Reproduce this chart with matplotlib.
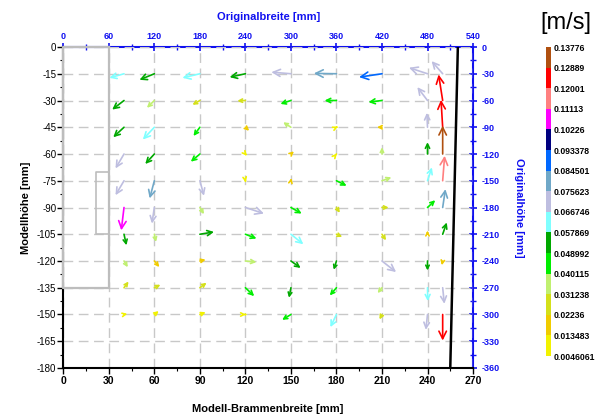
import matplotlib
matplotlib.use('Agg')
import matplotlib.pyplot as plt
import numpy as np
from matplotlib.colors import ListedColormap, BoundaryNorm
from matplotlib.cm import ScalarMappable
from matplotlib.ticker import MultipleLocator

plt.rcParams['font.family'] = ['Liberation Sans', 'DejaVu Sans']
plt.rcParams['axes.unicode_minus'] = False

# velocity field (model coords, mm); arrow vectors in mm on the plot
cols = [40, 60, 90, 120, 150, 180, 210, 240, 250]
rows = [-15, -30, -45, -60, -75, -90, -105, -120, -135, -150]

U = [[-9.6, -9.8, -11.5, -10.4, -12.9, -14.9, -15.1, -12.2, -7.3],
     [-7.8, -4.9, -4.9, -5.3, -6.9, -7.8, -8.9, -6.7, -2.7],
     [-7.1, -7.6, -4.2, 2.5, -5.1, 1.0, -3.3, -0.4, -1.1],
     [-5.6, -6.0, -6.0, 1.0, 2.0, 0.3, 0.0, 0.0, 0.0],
     [-5.6, -3.1, 2.7, 0.2, 0.4, 6.7, 6.2, 2.9, 1.3],
     [-1.8, -1.6, 2.7, 12.2, 7.1, 2.2, 4.4, 5.1, 1.8],
     [1.6, 1.1, 9.3, 7.3, 8.2, 3.8, 2.7, 0.0, 2.7],
     [2.5, 3.3, 3.8, 7.3, 6.4, -1.8, 9.3, 0.0, -0.6],
     [3.0, 4.0, 4.4, 5.8, -1.3, -4.4, -2.9, 0.2, 1.1],
     [2.2, 2.9, 3.8, 0.3, -5.8, -4.0, -1.6, -1.1, 0.0]]

V = [[-2.3, -3.4, -2.3, -1.9, 0.9, 0.2, -1.9, 3.4, 7.1],
     [-5.1, -4.1, -2.4, -0.2, -1.9, 0.0, -0.9, 7.5, 14.6],
     [-5.6, -6.9, -4.9, -2.0, 2.8, 0.4, 0.0, 8.1, 15.4],
     [-8.1, -5.6, -4.3, -1.0, 1.5, 0.3, 3.75, 6.6, 15.9],
     [-8.1, -9.9, -8.4, -0.8, 1.5, -2.8, 1.9, 7.5, 14.0],
     [-12.8, -9.0, -3.75, -3.4, -3.4, -3.0, 0.0, 4.1, 10.3],
     [-6.2, -4.3, 1.3, -2.4, -5.6, -1.5, -3.4, 2.0, 6.6],
     [-3.5, -3.4, 0.75, -0.6, -3.9, -4.9, -6.2, -5.3, -2.4],
     [3.5, 1.7, 2.8, -4.7, -5.6, -4.3, -3.0, -7.5, -9.0],
     [0.4, 1.9, 1.3, 0.0, -3.0, -7.1, -2.8, -8.6, -14.6]]

# speed [m/s]
S = [[0.062, 0.053, 0.062, 0.053, 0.071, 0.080, 0.089, 0.071, 0.071],
     [0.053, 0.035, 0.027, 0.027, 0.044, 0.044, 0.044, 0.071, 0.125],
     [0.053, 0.062, 0.044, 0.018, 0.035, 0.009, 0.018, 0.071, 0.125],
     [0.071, 0.053, 0.044, 0.009, 0.018, 0.009, 0.035, 0.053, 0.133],
     [0.071, 0.080, 0.071, 0.009, 0.018, 0.044, 0.035, 0.062, 0.116],
     [0.107, 0.071, 0.035, 0.071, 0.044, 0.027, 0.027, 0.044, 0.080],
     [0.053, 0.035, 0.053, 0.044, 0.062, 0.027, 0.027, 0.018, 0.053],
     [0.035, 0.018, 0.018, 0.035, 0.053, 0.053, 0.071, 0.053, 0.018],
     [0.027, 0.027, 0.027, 0.044, 0.053, 0.044, 0.035, 0.062, 0.071],
     [0.009, 0.009, 0.009, 0.009, 0.044, 0.062, 0.027, 0.071, 0.125]]

bounds = [0.0046061, 0.013483, 0.02236, 0.031238, 0.040115, 0.048992, 0.057869,
          0.066746, 0.075623, 0.084501, 0.093378, 0.10226, 0.11113, 0.12001,
          0.12889, 0.13776]
bound_labels = ['0.0046061', '0.013483', '0.02236', '0.031238', '0.040115',
                '0.048992', '0.057869', '0.066746', '0.075623', '0.084501',
                '0.093378', '0.10226', '0.11113', '0.12001', '0.12889', '0.13776']
level_colors = ['#f2f200', '#f0cc00', '#d4e01a', '#c0f070', '#00ee00', '#00a800',
                '#80ffff', '#bebee0', '#70a8c8', '#0068ff', '#000080', '#ff00ff',
                '#ff8080', '#ff0000', '#b05010']

# geometry outlines
mold_x = [30, 0, 0, 30, 30]
mold_y = [0, 0, -135, -135, 0]
box_x = [30, 21.5, 21.5, 30]
box_y = [-70, -70, -105, -105]
wall_x = [260, 255]
wall_y = [0, -180]

cmap = ListedColormap(level_colors)
norm = BoundaryNorm(bounds, cmap.N)

fig = plt.figure(figsize=(5.95, 4.16), dpi=100)
ax = fig.add_axes([0.1064, 0.1154, 0.6886, 0.7716])
ax.set_xlim(0, 270)
ax.set_ylim(-180, 0)

ax.xaxis.set_major_locator(MultipleLocator(30))
ax.xaxis.set_minor_locator(MultipleLocator(15))
ax.yaxis.set_major_locator(MultipleLocator(15))
ax.yaxis.set_minor_locator(MultipleLocator(7.5))
ax.grid(True, which='major', color='#c8c8c8', lw=1.0, ls=(0, (7, 4)))
ax.tick_params(axis='x', which='major', length=4, width=1, labelsize=7.5, pad=2)
ax.tick_params(axis='y', which='major', length=4, width=1, labelsize=7, pad=1)
ax.tick_params(which='minor', length=2, width=0.8)
for lab in ax.get_xticklabels():
    lab.set_fontweight('bold')
for side in ['top', 'right']:
    ax.spines[side].set_visible(False)
for side in ['left', 'bottom']:
    ax.spines[side].set_linewidth(1.5)

ax.plot(mold_x, mold_y, color='#bdbdbd', lw=1.6, zorder=3, clip_on=False)
ax.plot(box_x, box_y, color='#bdbdbd', lw=1.2, zorder=3)
ax.plot(wall_x, wall_y, color='black', lw=1.8, zorder=4)

fig.canvas.draw()
for i, y in enumerate(rows):
    for j, x in enumerate(cols):
        u, v = U[i][j], V[i][j]
        p0 = ax.transData.transform((x, y))
        p1 = ax.transData.transform((x + u, y + v))
        L = np.hypot(*(p1 - p0)) * 72 / fig.dpi
        ms = min(max(L * 0.6, 4), 9)
        ax.annotate('', xy=(x + u, y + v), xytext=(x, y),
                    arrowprops=dict(arrowstyle='->,head_length=0.6,head_width=0.3',
                                    color=cmap(norm(S[i][j])), lw=1.2,
                                    shrinkA=0, shrinkB=0, mutation_scale=ms),
                    zorder=5)

ax.set_xlabel('Modell-Brammenbreite [mm]', fontsize=8, fontweight='bold', labelpad=13)
ax.set_ylabel('Modellhöhe [mm]', fontsize=8, fontweight='bold', labelpad=4)

blue = '#1010f0'
secx = ax.secondary_xaxis('top', functions=(lambda x: x * 2, lambda x: x / 2))
secx.xaxis.set_major_locator(MultipleLocator(60))
secx.xaxis.set_minor_locator(MultipleLocator(30))
secx.tick_params(which='major', direction='inout', length=6, width=1.2, colors=blue,
                 labelsize=6.5, pad=1)
secx.tick_params(which='minor', direction='inout', length=4, width=1, colors=blue)
secx.spines['top'].set_color(blue)
secx.spines['top'].set_linewidth(1.5)
for lab in secx.get_xticklabels():
    lab.set_fontweight('bold')
secx.set_xlabel('Originalbreite [mm]', fontsize=8, fontweight='bold', color=blue, labelpad=9)

secy = ax.secondary_yaxis('right', functions=(lambda y: y * 2, lambda y: y / 2))
secy.yaxis.set_major_locator(MultipleLocator(30))
secy.yaxis.set_minor_locator(MultipleLocator(15))
secy.tick_params(which='major', direction='inout', length=6, width=1.2, colors=blue,
                 labelsize=6.5, pad=3)
secy.tick_params(which='minor', direction='inout', length=4, width=1, colors=blue)
secy.spines['right'].set_color(blue)
secy.spines['right'].set_linewidth(1.5)
for lab in secy.get_yticklabels():
    lab.set_fontweight('bold')
secy.set_ylabel('Originalhöhe [mm]', fontsize=8, fontweight='bold', color=blue,
                rotation=270, labelpad=18)

cax = fig.add_axes([0.9171, 0.1442, 0.0084, 0.7428])
cb = fig.colorbar(ScalarMappable(norm=norm, cmap=cmap), cax=cax, ticks=bounds,
                  spacing='uniform')
cb.ax.set_yticklabels(bound_labels, fontsize=6.2, fontweight='bold')
cb.ax.tick_params(length=0, pad=2)
cb.outline.set_visible(False)
fig.text(0.951, 0.945, '[m/s]', fontsize=17, ha='center', va='center')

fig.savefig('out.png', dpi=100)
